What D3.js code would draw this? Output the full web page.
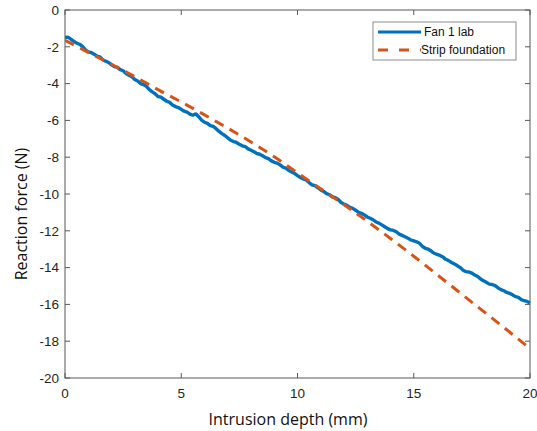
<!DOCTYPE html>
<html>
<head>
<meta charset="utf-8">
<script src="https://cdn.jsdelivr.net/npm/d3@7"></script>
<style>
  body { margin: 0; background: #fff; }
  svg { display: block; }
</style>
</head>
<body>
<svg id="chart" width="537" height="431"></svg>
<script>
// 数据
const xTicks = [0, 5, 10, 15, 20];
const yTicks = [0, -2, -4, -6, -8, -10, -12, -14, -16, -18, -20];
// Fan 1 lab, 每0.125mm一个点
const labDepth = d3.range(0, 20.001, 0.125);
const labForce = [
  -1.50, -1.47, -1.58, -1.70, -1.80, -1.86, -1.98, -2.16, -2.28, -2.31,
  -2.40, -2.50, -2.55, -2.70, -2.78, -2.85, -2.98, -3.08, -3.12, -3.24,
  -3.30, -3.45, -3.55, -3.62, -3.78, -3.86, -4.00, -4.05, -4.15, -4.32,
  -4.45, -4.55, -4.70, -4.74, -4.85, -4.96, -5.02, -5.16, -5.25, -5.30,
  -5.40, -5.50, -5.55, -5.66, -5.72, -5.64, -5.80, -5.98, -6.10, -6.16,
  -6.28, -6.33, -6.45, -6.60, -6.72, -6.82, -6.95, -7.08, -7.15, -7.20,
  -7.30, -7.38, -7.42, -7.55, -7.62, -7.70, -7.80, -7.84, -7.92, -8.02,
  -8.08, -8.20, -8.28, -8.32, -8.42, -8.54, -8.60, -8.72, -8.80, -8.88,
  -9.00, -9.10, -9.18, -9.24, -9.38, -9.50, -9.55, -9.66, -9.78, -9.86,
  -9.98, -10.04, -10.15, -10.20, -10.30, -10.46, -10.55, -10.62, -10.72, -10.78,
  -10.88, -11.00, -11.05, -11.14, -11.25, -11.32, -11.40, -11.52, -11.58, -11.68,
  -11.78, -11.88, -11.95, -11.98, -12.05, -12.18, -12.25, -12.32, -12.40, -12.50,
  -12.55, -12.60, -12.68, -12.85, -12.95, -13.00, -13.10, -13.22, -13.28, -13.34,
  -13.42, -13.55, -13.62, -13.72, -13.80, -13.90, -14.00, -14.14, -14.22, -14.24,
  -14.30, -14.40, -14.48, -14.62, -14.72, -14.80, -14.90, -14.92, -14.98, -15.10,
  -15.20, -15.26, -15.35, -15.40, -15.48, -15.58, -15.62, -15.74, -15.80, -15.84,
  -15.92
];
// Strip foundation, 每1mm一个点
const stripDepth = d3.range(0, 21, 1);
const stripForce = [
  -1.65, -2.30, -2.95, -3.62, -4.33, -5.00, -5.70, -6.42, -7.17, -7.98,
  -8.85, -9.72, -10.58, -11.48, -12.42, -13.38, -14.38, -15.38, -16.38, -17.38,
  -18.40
];
const seriesNames = ["Fan 1 lab", "Strip foundation"];

const W = 537, H = 431;
const margin = { top: 10, right: 7, bottom: 53, left: 65 };
const axisColor = "#595959";
const textColor = "#262626";
const blue = "#0072BD", orange = "#D95319";
const tickFont = "Liberation Sans, Arial, sans-serif";
const titleFont = "Open Sans, Noto Sans, sans-serif";

const svg = d3.select("#chart");
const x = d3.scaleLinear([0, 20], [margin.left, W - margin.right]);
const y = d3.scaleLinear([-20, 0], [H - margin.bottom, margin.top]);
const tickLen = 5;

// 坐标框
const axisG = svg.append("g").attr("class", "axisG");
axisG.append("rect")
  .attr("x", x(0)).attr("y", y(0))
  .attr("width", x(20) - x(0)).attr("height", y(-20) - y(0))
  .attr("fill", "none").attr("stroke", axisColor).attr("stroke-width", 1);

// 刻度线 (MATLAB风格朝内)
axisG.selectAll(".xtick").data(xTicks).join("g")
  .attr("class", "xtick")
  .call((g) => {
    g.append("line")
      .attr("x1", (d) => x(d)).attr("x2", (d) => x(d))
      .attr("y1", y(-20)).attr("y2", y(-20) - tickLen)
      .attr("stroke", axisColor);
    g.append("line")
      .attr("x1", (d) => x(d)).attr("x2", (d) => x(d))
      .attr("y1", y(0)).attr("y2", y(0) + tickLen)
      .attr("stroke", axisColor);
    g.append("text")
      .text((d) => d)
      .attr("x", (d) => x(d))
      .attr("y", y(-20) + 20)
      .attr("text-anchor", "middle")
      .attr("font-family", tickFont)
      .attr("font-size", 13.5)
      .attr("fill", textColor);
  });

axisG.selectAll(".ytick").data(yTicks).join("g")
  .attr("class", "ytick")
  .call((g) => {
    g.append("line")
      .attr("x1", x(0)).attr("x2", x(0) + tickLen)
      .attr("y1", (d) => y(d)).attr("y2", (d) => y(d))
      .attr("stroke", axisColor);
    g.append("line")
      .attr("x1", x(20)).attr("x2", x(20) - tickLen)
      .attr("y1", (d) => y(d)).attr("y2", (d) => y(d))
      .attr("stroke", axisColor);
    g.append("text")
      .text((d) => d)
      .attr("x", x(0) - 6)
      .attr("y", (d) => y(d))
      .attr("dy", "0.35em")
      .attr("text-anchor", "end")
      .attr("font-family", tickFont)
      .attr("font-size", 13.5)
      .attr("fill", textColor);
  });

// 轴标题
svg.append("text")
  .text("Intrusion depth (mm)")
  .attr("x", 288).attr("y", 425)
  .attr("text-anchor", "middle")
  .attr("font-family", titleFont)
  .attr("font-size", 16)
  .attr("fill", "#111");
svg.append("text")
  .text("Reaction force (N)")
  .attr("transform", "translate(27, 214) rotate(-90)")
  .attr("text-anchor", "middle")
  .attr("font-family", titleFont)
  .attr("font-size", 16)
  .attr("fill", "#111");

// 曲线
const clipId = "plotClip";
svg.append("clipPath").attr("id", clipId)
  .append("rect")
  .attr("x", x(0)).attr("y", y(0) - 2)
  .attr("width", x(20) - x(0) + 1).attr("height", y(-20) - y(0) + 4);

const line = d3.line().x((d) => x(d[0])).y((d) => y(d[1]));
const plotG = svg.append("g").attr("clip-path", `url(#${clipId})`);
plotG.append("path")
  .datum(labDepth.map((d, i) => [d, labForce[i]]))
  .attr("d", line)
  .attr("fill", "none")
  .attr("stroke", blue)
  .attr("stroke-width", 3.4)
  .attr("stroke-linejoin", "bevel");
plotG.append("path")
  .datum(stripDepth.map((d, i) => [d, stripForce[i]]))
  .attr("d", line.curve(d3.curveMonotoneX))
  .attr("fill", "none")
  .attr("stroke", orange)
  .attr("stroke-width", 3)
  .attr("stroke-dasharray", "10,7");

// 图例
const legendG = svg.append("g")
  .attr("class", "legendG")
  .attr("transform", "translate(373, 22)");
legendG.append("rect")
  .attr("width", 143).attr("height", 38)
  .attr("fill", "#fff").attr("stroke", "#8c8c8c").attr("stroke-width", 1);
legendG.selectAll(".item").data(seriesNames).join("g")
  .attr("class", "item")
  .attr("transform", (_, i) => `translate(0, ${10 + i * 18})`)
  .call((g) => {
    g.append("line")
      .attr("x1", 5).attr("x2", 48)
      .attr("y1", 0).attr("y2", 0)
      .attr("stroke", (_, i) => (i == 0 ? blue : orange))
      .attr("stroke-width", 3)
      .attr("stroke-dasharray", (_, i) => (i == 0 ? null : "10,11"));
    g.append("text")
      .text((d) => d)
      .attr("x", (_, i) => (i == 0 ? 51 : 48))
      .attr("y", 0)
      .attr("dy", "0.35em")
      .attr("font-family", tickFont)
      .attr("font-size", 12)
      .attr("fill", "#111");
  });
</script>
</body>
</html>
